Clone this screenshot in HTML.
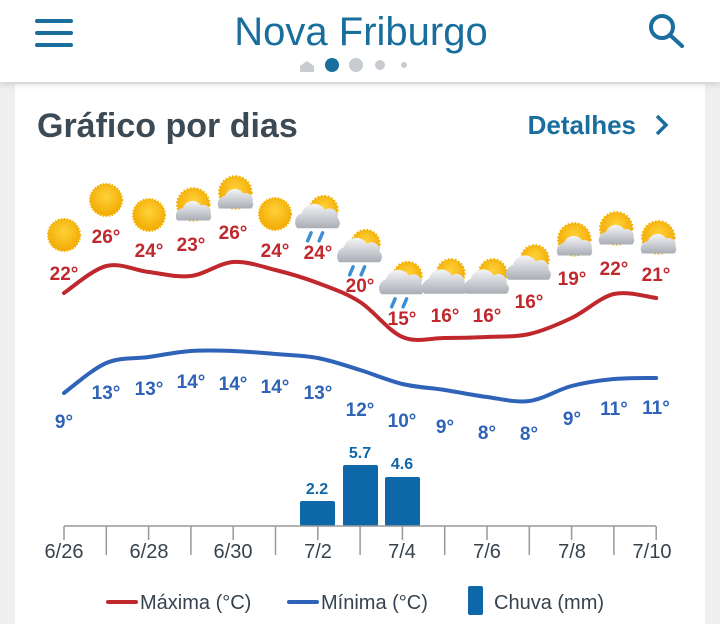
<!DOCTYPE html>
<html><head><meta charset="utf-8"><style>
body{margin:0;width:720px;height:619px;background:#efefef;overflow:hidden;font-family:"Liberation Sans",sans-serif}
.hdr{position:absolute;left:0;top:0;width:720px;height:82px;background:#fff;box-shadow:0 2px 6px rgba(0,0,0,.15);z-index:2}
.card{position:absolute;left:15px;top:84px;width:690px;height:540px;background:#fff}
svg{position:absolute;left:0;top:0}
</style></head><body>
<div class="card"></div>
<div class="hdr"></div>
<svg width="720" height="619" style="z-index:3">
<defs>
<radialGradient id="sg" cx="50%" cy="40%" r="60%"><stop offset="0" stop-color="#ffd23a"/><stop offset="1" stop-color="#f2a900"/></radialGradient>
<linearGradient id="cg" x1="0" y1="0" x2="0" y2="1"><stop offset="0" stop-color="#f4f5f7"/><stop offset="1" stop-color="#a9adb5"/></linearGradient>
<g id="sun"><circle r="16" fill="url(#sg)" stroke="#f2b000" stroke-width="2" stroke-dasharray="1.5 1.5"/></g>
<g id="sc" transform="scale(1.15)"><circle cx="2" cy="-4" r="14" fill="url(#sg)" stroke="#f2b000" stroke-width="2" stroke-dasharray="1.5 1.5"/><path d="M-12 10 a7 7 0 0 1 5-11 a9 9 0 0 1 16-2 a6 6 0 0 1 8 7 a5 5 0 0 1 -1 6 z" fill="url(#cg)"/></g>
<g id="cs" transform="scale(1.15)"><circle cx="5" cy="-6" r="12" fill="url(#sg)" stroke="#f2b000" stroke-width="2" stroke-dasharray="1.5 1.5"/><path d="M-18 12 a8 8 0 0 1 4-13 a11 11 0 0 1 20-3 a7 7 0 0 1 11 7 a6 6 0 0 1 0 9 z" fill="url(#cg)"/></g>
<g id="rn" transform="scale(1.15)"><circle cx="5" cy="-8" r="12" fill="url(#sg)" stroke="#f2b000" stroke-width="2" stroke-dasharray="1.5 1.5"/><path d="M-18 8 a8 8 0 0 1 4-13 a11 11 0 0 1 20-3 a7 7 0 0 1 11 7 a6 6 0 0 1 0 9 z" fill="url(#cg)"/><path d="M-6 12 l-3 7 M4 12 l-3 7" stroke="#3b8fd6" stroke-width="3" stroke-linecap="round"/></g>
</defs>
<g fill="#1a6e9e"><rect x="35" y="19" width="38" height="4" rx="2"/><rect x="35" y="31" width="38" height="4" rx="2"/><rect x="35" y="43" width="38" height="4" rx="2"/></g>
<circle cx="662" cy="27" r="11" fill="none" stroke="#1a6e9e" stroke-width="4"/><line x1="670" y1="35" x2="682" y2="46" stroke="#1a6e9e" stroke-width="4" stroke-linecap="round"/>
<text x="361" y="45" text-anchor="middle" font-size="40" fill="#1a6e9e">Nova Friburgo</text>
<path d="M300 72 v-6 l7-5 l7 5 v6z" fill="#c8cbcf"/><circle cx="332" cy="65" r="7" fill="#1a6e9e"/><circle cx="356" cy="65" r="7" fill="#c8cbcf"/><circle cx="380" cy="65" r="5" fill="#c8cbcf"/><circle cx="404" cy="65" r="3" fill="#c8cbcf"/>
<text x="37" y="137" font-size="34" font-weight="bold" fill="#3c4a55">Gráfico por dias</text>
<text x="636" y="134" text-anchor="end" font-size="26" font-weight="bold" fill="#1a6e9e">Detalhes</text>
<path d="M657 116 l9 9 l-9 9" fill="none" stroke="#1a6e9e" stroke-width="3.5"/>
<use href="#sun" x="64" y="235"/><use href="#sun" x="106" y="200"/><use href="#sun" x="149" y="215"/><use href="#sc" x="191" y="209"/><use href="#sc" x="233" y="197"/><use href="#sun" x="275" y="214"/><use href="#rn" x="318" y="219"/><use href="#rn" x="360" y="253"/><use href="#rn" x="402" y="285"/><use href="#cs" x="445" y="280"/><use href="#cs" x="487" y="280"/><use href="#cs" x="529" y="266"/><use href="#sc" x="572" y="244"/><use href="#sc" x="614" y="233"/><use href="#sc" x="656" y="242"/>
<path id="mx" fill="none" stroke="#c0282d" stroke-width="4" stroke-linecap="round" d=""/>
<path id="mn" fill="none" stroke="#2f63b8" stroke-width="4" stroke-linecap="round" d=""/>
<g font-size="19" font-weight="bold" fill="#c0282d" text-anchor="middle">
<text x="64" y="280">22°</text><text x="106" y="243">26°</text><text x="149" y="257">24°</text><text x="191" y="251">23°</text><text x="233" y="239">26°</text><text x="275" y="257">24°</text><text x="318" y="259">24°</text><text x="360" y="292">20°</text><text x="402" y="325">15°</text><text x="445" y="322">16°</text><text x="487" y="322">16°</text><text x="529" y="308">16°</text><text x="572" y="285">19°</text><text x="614" y="275">22°</text><text x="656" y="281">21°</text>
</g>
<g font-size="19" font-weight="bold" fill="#2f63b8" text-anchor="middle">
<text x="64" y="428">9°</text><text x="106" y="399">13°</text><text x="149" y="395">13°</text><text x="191" y="388">14°</text><text x="233" y="390">14°</text><text x="275" y="393">14°</text><text x="318" y="399">13°</text><text x="360" y="416">12°</text><text x="402" y="427">10°</text><text x="445" y="433">9°</text><text x="487" y="439">8°</text><text x="529" y="440">8°</text><text x="572" y="425">9°</text><text x="614" y="415">11°</text><text x="656" y="414">11°</text>
</g>
<g fill="#0e67a8"><rect x="300" y="501" width="35" height="25" rx="2"/><rect x="343" y="465" width="35" height="61" rx="2"/><rect x="385" y="477" width="35" height="49" rx="2"/></g>
<g font-size="16" font-weight="bold" fill="#0e67a8" text-anchor="middle"><text x="317" y="494">2.2</text><text x="360" y="458">5.7</text><text x="402" y="469">4.6</text></g>
<line x1="64" y1="526" x2="656" y2="526" stroke="#999" stroke-width="1.5"/>
<g id="tk" stroke="#999" stroke-width="1.5"></g>
<g font-size="20" fill="#36434e" text-anchor="middle">
<text x="64" y="558">6/26</text><text x="149" y="558">6/28</text><text x="233" y="558">6/30</text><text x="318" y="558">7/2</text><text x="402" y="558">7/4</text><text x="487" y="558">7/6</text><text x="572" y="558">7/8</text><text x="652" y="558">7/10</text>
</g>
<line x1="108" y1="602" x2="136" y2="602" stroke="#c0282d" stroke-width="4" stroke-linecap="round"/>
<text x="140" y="609" font-size="20" fill="#36434e">Máxima (°C)</text>
<line x1="289" y1="602" x2="317" y2="602" stroke="#2f63b8" stroke-width="4" stroke-linecap="round"/>
<text x="321" y="609" font-size="20" fill="#36434e">Mínima (°C)</text>
<rect x="468" y="586" width="15" height="29" rx="2" fill="#0e67a8"/>
<text x="494" y="609" font-size="20" fill="#36434e">Chuva (mm)</text>
</svg>
<script>
var xs=[];for(var i=0;i<15;i++)xs.push(64+42.3*i);
function sm(ys){var p=xs.map(function(x,i){return[x,ys[i]]});var d="M"+p[0][0]+" "+p[0][1];
for(var i=0;i<p.length-1;i++){var a=p[i-1]||p[i],b=p[i],c=p[i+1],e=p[i+2]||c;
d+=" C"+(b[0]+(c[0]-a[0])/6)+" "+(b[1]+(c[1]-a[1])/6)+" "+(c[0]-(e[0]-b[0])/6)+" "+(c[1]-(e[1]-b[1])/6)+" "+c[0]+" "+c[1];}return d;}
document.getElementById("mx").setAttribute("d",sm([293,266,272,276,262,270,283,302,337,338,337,334,318,294,298]));
document.getElementById("mn").setAttribute("d",sm([393,363,357,351,351,354,358,370,384,390,397,401,386,379,378]));
var g=document.getElementById("tk"),s="";
for(var i=0;i<15;i++){var y2=(i%2==0)?540:555;if(i==14)y2=540;s+='<line x1="'+xs[i]+'" y1="526" x2="'+xs[i]+'" y2="'+y2+'"/>';}
g.innerHTML=s;
</script>
</body></html>
